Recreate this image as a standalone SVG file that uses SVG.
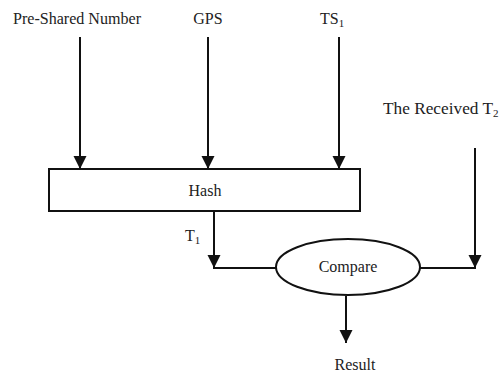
<svg xmlns="http://www.w3.org/2000/svg" width="501" height="379" viewBox="0 0 501 379">
<style>
text{font-family:"Liberation Serif","Times New Roman",serif;font-size:16px;fill:#222}
.sub{font-size:11px}
.ln{stroke:#111;stroke-width:2;fill:none}
.sh{fill:#fff;stroke:#111;stroke-width:2}
</style>
<defs>
<marker id="ah" markerWidth="13" markerHeight="16" refX="13" refY="8" orient="auto" markerUnits="userSpaceOnUse">
<path d="M0,1.5 L13,8 L0,14.5 Z" fill="#111"/>
</marker>
</defs>
<rect width="501" height="379" fill="#fff"/>
<g id="connectors">
<line class="ln" x1="80" y1="37" x2="80" y2="169" marker-end="url(#ah)"/>
<line class="ln" x1="208" y1="37" x2="208" y2="169" marker-end="url(#ah)"/>
<line class="ln" x1="339" y1="37" x2="339" y2="169" marker-end="url(#ah)"/>
<polyline class="ln" points="475,148 475,268 420,268"/>
<line class="ln" x1="475" y1="250" x2="475" y2="268" marker-end="url(#ah)"/>
<polyline class="ln" points="214,211 214,268 276,268"/>
<line class="ln" x1="214" y1="250" x2="214" y2="268" marker-end="url(#ah)"/>
<line class="ln" x1="346" y1="296" x2="346" y2="343" marker-end="url(#ah)"/>
<text x="185" y="241">T<tspan class="sub" dy="3">1</tspan></text>
</g>
<g id="pre-shared"><text x="77" y="24" text-anchor="middle" textLength="128" lengthAdjust="spacingAndGlyphs">Pre-Shared Number</text></g>
<g id="gps"><text x="208" y="24" text-anchor="middle">GPS</text></g>
<g id="ts1"><text x="320" y="24">TS<tspan class="sub" dy="3">1</tspan></text></g>
<g id="received"><text x="383" y="114" textLength="110" lengthAdjust="spacingAndGlyphs">The Received T</text><text class="sub" x="493" y="117">2</text></g>
<g id="hash"><rect class="sh" x="49" y="169" width="311" height="42"/><text x="205" y="196" text-anchor="middle">Hash</text></g>
<g id="compare"><ellipse class="sh" cx="348" cy="267" rx="72" ry="28"/><text x="348" y="272" text-anchor="middle">Compare</text></g>
<g id="result"><text x="355" y="370" text-anchor="middle">Result</text></g>
</svg>
